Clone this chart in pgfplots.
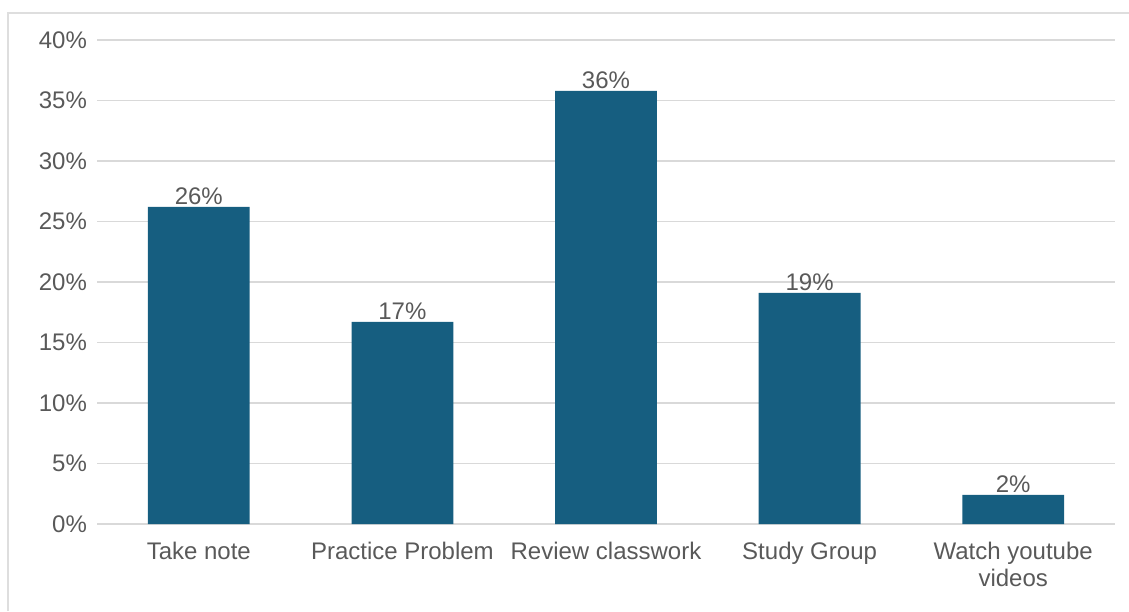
\documentclass[border=0pt]{standalone}
\usepackage{fontspec}
\setmainfont{Liberation Sans}
\usepackage{pgfplots}
\pgfplotsset{compat=1.18}
\definecolor{barc}{RGB}{22,94,128}
\definecolor{txt}{RGB}{89,89,89}
\definecolor{grd}{RGB}{217,217,217}
\definecolor{frm}{RGB}{222,222,222}
\begin{document}
\begin{tikzpicture}[x=1pt,y=1pt]
\path[use as bounding box] (0,0) rectangle (564.5,305.5);
\draw[frm,line width=0.8pt] (4,0) -- (4,299) -- (564.5,299);
\begin{axis}[
  at={(48.5pt,43.5pt)}, anchor=south west,
  scale only axis, width=509pt, height=242pt,
  xmin=-0.5, xmax=4.5, ymin=0, ymax=40,
  ytick={0,5,...,40},
  axis line style={draw=none},
  major tick length=0pt,
  ymajorgrids, grid style={grd,line width=0.8pt},
  xtick=data,
  xticklabels={Take note,Practice Problem,Review classwork,Study Group,{Watch youtube\\videos}},
  xticklabel style={align=center,font=\fontsize{12}{13.5}\selectfont,text=txt,yshift=-5.5pt},
  yticklabel style={font=\fontsize{12}{13.5}\selectfont,text=txt,xshift=-1.5pt},
  yticklabel={\pgfmathprintnumber{\tick}\%},
  /pgf/number format/assume math mode=true,
  nodes near coords={\pgfmathprintnumber[fixed,precision=0]{\pgfplotspointmeta}\%},
  nodes near coords style={font=\fontsize{12}{13.5}\selectfont,text=txt,inner sep=1pt},
  clip=false,
]
\addplot[ybar, bar width=0.5, fill=barc, draw=none] coordinates {(0,26.2) (1,16.7) (2,35.8) (3,19.1) (4,2.4)};
\end{axis}
\end{tikzpicture}
\end{document}
